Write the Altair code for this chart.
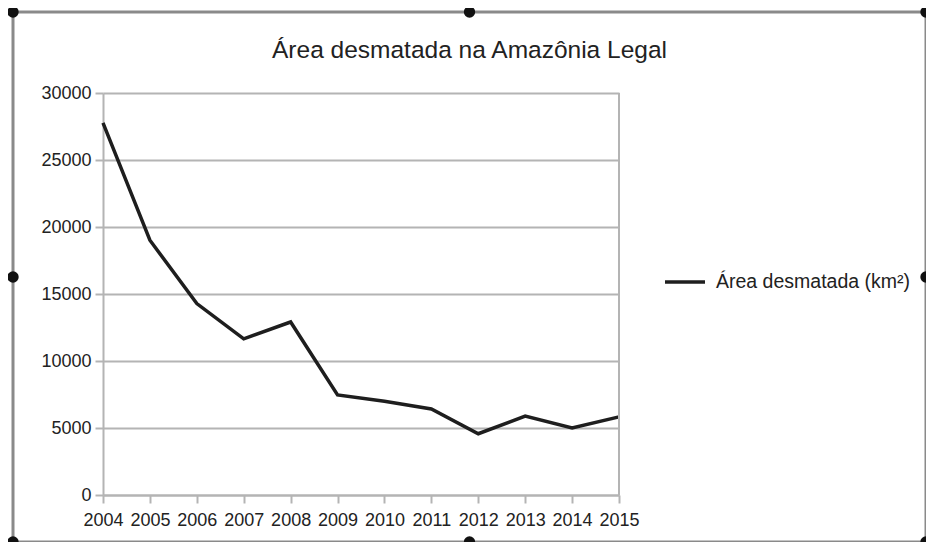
import altair as alt
import pandas as pd

years = [2004, 2005, 2006, 2007, 2008, 2009, 2010, 2011, 2012, 2013, 2014, 2015]
area = [27772, 19014, 14286, 11651, 12911, 7464, 7000, 6418, 4571, 5891, 5012, 5831]
series_name = "Área desmatada (km²)"
title_text = "Área desmatada na Amazônia Legal"
y_ticks = [0, 5000, 10000, 15000, 20000, 25000, 30000]

W, H = 913, 530
FONT = "Liberation Sans"
GRID = "#b4b4b4"

df = pd.DataFrame({"ano": years, "area": area, "serie": [series_name] * len(years)})

xscale = alt.Scale(domain=[2004, 2015], range=[90, 606], nice=False, zero=False)
yscale = alt.Scale(domain=[0, 30000], range=[483, 81], nice=False)

line = alt.Chart(df).mark_line(strokeWidth=3.5, strokeJoin="miter").encode(
    x=alt.X("ano:Q", scale=xscale,
            axis=alt.Axis(values=years, format="d", title=None, grid=False, offset=-47,
                          tickSize=8, tickWidth=2, tickColor=GRID, domainColor=GRID, domainWidth=2,
                          labelFont=FONT, labelFontSize=18, labelColor="#222", labelPadding=8,
                          labelFlush=False, labelOverlap=False)),
    y=alt.Y("area:Q", scale=yscale,
            axis=alt.Axis(values=y_ticks, format="d", title=None, grid=True, gridColor=GRID, gridWidth=2,
                          offset=-90, tickSize=8, tickWidth=2, tickColor=GRID, domainColor=GRID,
                          domainWidth=2, labelFont=FONT, labelFontSize=18, labelColor="#222",
                          labelPadding=4)),
    color=alt.Color("serie:N", scale=alt.Scale(range=["#1e1e1e"]),
                    legend=alt.Legend(orient="none", legendX=650, legendY=248, title=None,
                                      symbolType="stroke", symbolSize=1600, symbolStrokeWidth=3.5,
                                      labelFont=FONT, labelFontSize=19.5, labelColor="#222",
                                      labelOffset=9, labelLimit=0, padding=0)),
)

border = alt.Chart(pd.DataFrame({"b": [0]})).mark_rule(color=GRID, strokeWidth=2).encode(
    x=alt.datum(2015, scale=xscale), y=alt.datum(0), y2=alt.datum(30000)
)

title = alt.Chart(pd.DataFrame({"t": [title_text]})).mark_text(
    font=FONT, fontSize=24.5, color="#222", align="center", baseline="alphabetic"
).encode(text="t:N", x=alt.value(W / 2), y=alt.value(46))

handle_pos = [(0, 0), (W / 2, 0), (W, 0), (0, H / 2), (W, H / 2), (0, H), (W / 2, H), (W, H)]
handles = [
    alt.Chart(pd.DataFrame({"h": [0]})).mark_circle(size=130, color="#111", opacity=1).encode(
        x=alt.value(hx), y=alt.value(hy))
    for hx, hy in handle_pos
]

chart = alt.layer(line, border, title, *handles).properties(
    width=W, height=H,
    autosize=alt.AutoSizeParams(type="none"),
    padding={"left": 5, "top": 4, "right": 0, "bottom": 0},
    background="white",
).configure_view(stroke="#8a8a8a", strokeWidth=3)

chart.save("out.html", embed_options={"renderer": "svg", "actions": False})
